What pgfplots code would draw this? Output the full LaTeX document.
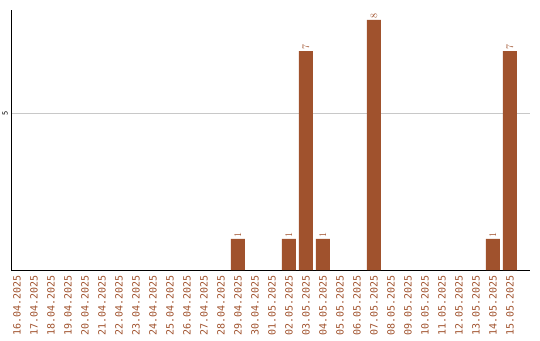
\documentclass[border=0pt]{standalone}
\usepackage{fontspec}
\setmainfont{DejaVu Sans Mono}
\usepackage{pgfplots}
\pgfplotsset{compat=1.18}
\definecolor{barbrown}{HTML}{A0522D}
\definecolor{gridgray}{HTML}{C8C8C8}
\begin{document}
\begin{tikzpicture}
\useasboundingbox (-11pt,-70pt) rectangle (529pt,270pt);
\begin{axis}[
  at={(0pt,0pt)}, anchor=south west,
  scale only axis,
  width=519pt, height=260pt,
  xmin=-0.353, xmax=30.18,
  ymin=0, ymax=8.32,
  axis x line*=bottom, axis y line*=left,
  axis line style={-, black, line width=0.8pt},
  xtick={0,...,29},
  xticklabels={16.04.2025,17.04.2025,18.04.2025,19.04.2025,20.04.2025,21.04.2025,22.04.2025,23.04.2025,24.04.2025,25.04.2025,26.04.2025,27.04.2025,28.04.2025,29.04.2025,30.04.2025,01.05.2025,02.05.2025,03.05.2025,04.05.2025,05.05.2025,06.05.2025,07.05.2025,08.05.2025,09.05.2025,10.05.2025,11.05.2025,12.05.2025,13.05.2025,14.05.2025,15.05.2025},
  xticklabel style={rotate=90, anchor=east, inner sep=0pt, text=barbrown,
    font=\fontsize{10}{11}\selectfont},
  xticklabel shift=5pt,
  xtick style={draw=none},
  ytick={5},
  yticklabel style={rotate=90, anchor=south, inner sep=0pt,
    font=\fontsize{7}{8}\selectfont},
  yticklabel shift=3pt,
  ytick style={draw=none},
  tick label style={/pgf/number format/assume math mode=true},
  ymajorgrids,
  grid style={gridgray, line width=0.8pt},
]
\addplot[ybar, bar width=14pt, fill=barbrown, draw=none,
  nodes near coords,
  every node near coord/.append style={rotate=90, anchor=west, inner sep=1.5pt,
    text=barbrown, font=\fontsize{10}{11}\selectfont}]
  coordinates {(13,1) (16,1) (17,7) (18,1) (21,8) (28,1) (29,7)};
\end{axis}
\end{tikzpicture}
\end{document}
